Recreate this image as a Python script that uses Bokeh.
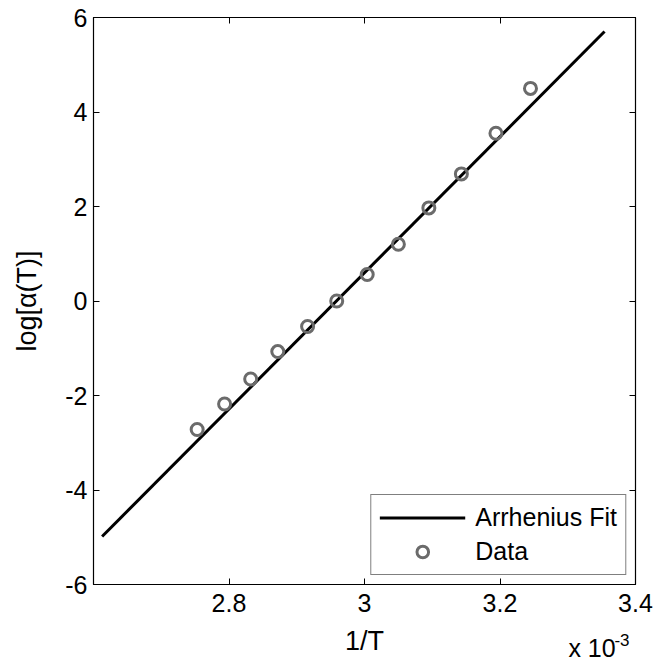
from bokeh.plotting import figure
from bokeh.models import LinearAxis, FixedTicker, Legend, LegendItem
from bokeh.embed import file_html
from bokeh.resources import INLINE

# Data (x in units of 1e-3 1/K)
inv_T = [2.753, 2.7935, 2.832, 2.872, 2.916, 2.959, 3.004, 3.050, 3.095, 3.143, 3.194, 3.245]
log_alpha = [-2.72, -2.18, -1.65, -1.07, -0.54, 0.00, 0.56, 1.20, 1.97, 2.69, 3.55, 4.50]

# Arrhenius fit line endpoints
fit_x = [2.6127, 3.3543]
fit_y = [-4.984, 5.704]

x_ticks = [2.6, 2.8, 3.0, 3.2, 3.4]
x_tick_labels = {2.6: "", 2.8: "2.8", 3.0: "3", 3.2: "3.2", 3.4: "3.4"}
y_ticks = [-6, -4, -2, 0, 2, 4, 6]
y_tick_labels = {-6: "-6", -4: "-4", -2: "-2", 0: "0", 2: "2", 4: "4", 6: "6"}
exp_base_pos = 3.3358
exp_base_label = {exp_base_pos: "x 10"}
exp_power_pos = 3.380
exp_power_label = {exp_power_pos: "-3"}

FONT = "Liberation Sans"

p = figure(width=667, height=665, x_range=(2.6, 3.4), y_range=(-6, 6),
           output_backend="svg", toolbar_location=None,
           min_border_left=93, min_border_right=32, min_border_top=17, min_border_bottom=81,
           x_axis_label="1/T", y_axis_label="log[α(T)]")
p.grid.visible = False
p.outline_line_color = "black"
p.outline_line_width = 1.2
p.background_fill_color = "white"
p.border_fill_color = "white"

for ax in [p.xaxis[0], p.yaxis[0]]:
    ax.major_tick_in = 6
    ax.major_tick_out = 0
    ax.minor_tick_line_color = None
    ax.axis_line_color = "black"
    ax.major_tick_line_color = "black"
    ax.major_label_text_font = FONT
    ax.major_label_text_font_size = "25px"
    ax.major_label_text_color = "black"
    ax.axis_label_text_font = FONT
    ax.axis_label_text_font_size = "27px"
    ax.axis_label_text_font_style = "normal"
    ax.axis_label_text_color = "black"

p.xaxis[0].ticker = FixedTicker(ticks=x_ticks)
p.xaxis[0].major_label_overrides = x_tick_labels
p.xaxis[0].major_label_standoff = 9
p.xaxis[0].axis_label_standoff = 11
p.yaxis[0].ticker = FixedTicker(ticks=y_ticks)
p.yaxis[0].major_label_overrides = y_tick_labels
p.yaxis[0].major_label_standoff = 6
p.yaxis[0].axis_label_standoff = 20

top_ax = LinearAxis(ticker=FixedTicker(ticks=x_ticks), major_tick_in=6, major_tick_out=0,
                    minor_tick_line_color=None, major_label_text_font_size="0px",
                    major_label_standoff=0, axis_line_color="black")
right_ax = LinearAxis(ticker=FixedTicker(ticks=y_ticks), major_tick_in=6, major_tick_out=0,
                      minor_tick_line_color=None, major_label_text_font_size="0px",
                      major_label_standoff=0, axis_line_color="black")
p.add_layout(top_ax, "above")
p.add_layout(right_ax, "right")

# exponent note "x 10^-3" below the axis, raised into the axis-label row
exp_ax = LinearAxis(ticker=FixedTicker(ticks=[exp_base_pos]), major_label_overrides=exp_base_label,
                    axis_line_color=None, major_tick_line_color=None, major_tick_in=0,
                    major_tick_out=0, minor_tick_line_color=None,
                    major_label_text_font=FONT, major_label_text_font_size="25px",
                    major_label_text_color="black", major_label_standoff=-25)
p.add_layout(exp_ax, "below")
pow_ax = LinearAxis(ticker=FixedTicker(ticks=[exp_power_pos]), major_label_overrides=exp_power_label,
                    axis_line_color=None, major_tick_line_color=None, major_tick_in=0,
                    major_tick_out=0, minor_tick_line_color=None,
                    major_label_text_font=FONT, major_label_text_font_size="17px",
                    major_label_text_color="black", major_label_standoff=-31)
p.add_layout(pow_ax, "below")

fit = p.line(fit_x, fit_y, line_color="black", line_width=3)
pts = p.scatter(inv_T, log_alpha, marker="circle", size=12, fill_color=None,
                line_color="#6b6b6b", line_width=3)

legend = Legend(items=[LegendItem(label="Arrhenius Fit", renderers=[fit]),
                       LegendItem(label="Data", renderers=[pts])],
                location="bottom_right", label_text_font=FONT, label_text_font_size="25px",
                label_text_color="black", border_line_color="black", border_line_width=1,
                background_fill_color="white", background_fill_alpha=1,
                glyph_width=86, glyph_height=29, label_height=29, label_standoff=10,
                padding=8, spacing=5, margin=9)
p.add_layout(legend)

open("out.html", "w").write(file_html(p, INLINE))
